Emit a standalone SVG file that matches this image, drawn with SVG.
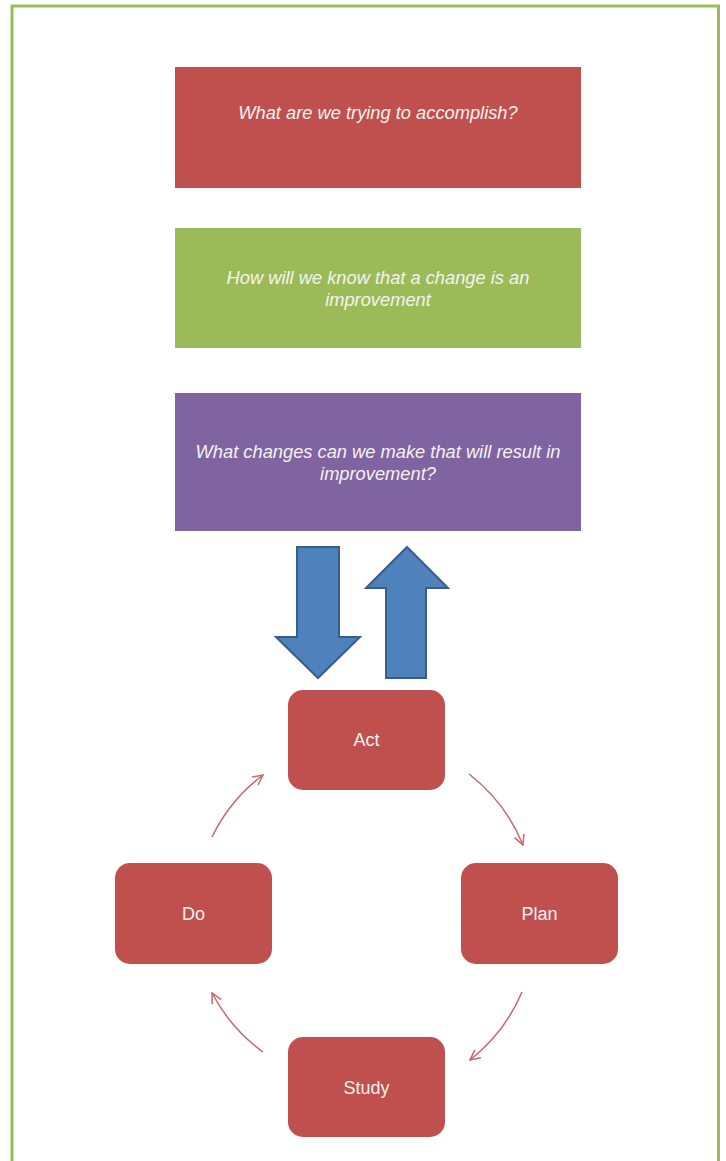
<svg xmlns="http://www.w3.org/2000/svg" width="726" height="1161" viewBox="0 0 726 1161">
<defs>
<style>
.q{font-family:"Liberation Sans",Arial,sans-serif;font-style:italic;font-size:18.3px;fill:#F5F2F0;text-anchor:middle}
.n{font-family:"Liberation Sans",Arial,sans-serif;font-size:18px;fill:#F5F2F0;text-anchor:middle}
.cyc{fill:#C0504D}
.blue{fill:#4F81BD;stroke:#385D8A;stroke-width:2;stroke-linejoin:miter}
.arc{fill:none;stroke:#C8676A;stroke-width:1.5;marker-end:url(#ah)}
</style>
<marker id="ah" viewBox="0 0 12 12" refX="11" refY="6" markerWidth="12" markerHeight="12" markerUnits="userSpaceOnUse" orient="auto">
<path d="M1,1 L11,6 L1,11" fill="none" stroke="#C8676A" stroke-width="1.5"/>
</marker>
</defs>
<rect width="726" height="1161" fill="#FFFFFF"/>
<rect x="12" y="6" width="706.5" height="1157" fill="none" stroke="#9BBB59" stroke-width="3"/>

<g id="q1">
<rect x="175" y="67" width="406" height="121" fill="#C0504D"/>
<text class="q" x="378" y="119">What are we trying to accomplish?</text>
</g>
<g id="q2">
<rect x="175" y="228" width="406" height="120" fill="#9BBB59"/>
<text class="q" x="378" y="284">How will we know that a change is an</text>
<text class="q" x="378" y="306">improvement</text>
</g>
<g id="q3">
<rect x="175" y="393" width="406" height="138" fill="#8064A2"/>
<text class="q" x="378" y="458">What changes can we make that will result in</text>
<text class="q" x="378" y="480">improvement?</text>
</g>

<g id="arrow-down">
<polygon class="blue" points="297,547 339,547 339,637 360,637 318,678 276,637 297,637"/>
</g>
<g id="arrow-up">
<polygon class="blue" points="407,547 448,588 426,588 426,678 386,678 386,588 366,588"/>
</g>

<g id="act">
<rect class="cyc" x="288" y="690" width="157" height="100" rx="15"/>
<text class="n" x="366.5" y="746">Act</text>
</g>
<g id="plan">
<rect class="cyc" x="461" y="863" width="157" height="101" rx="15"/>
<text class="n" x="539.5" y="919.5">Plan</text>
</g>
<g id="study">
<rect class="cyc" x="288" y="1037" width="157" height="100" rx="15"/>
<text class="n" x="366.5" y="1093.5">Study</text>
</g>
<g id="do">
<rect class="cyc" x="115" y="863" width="157" height="101" rx="15"/>
<text class="n" x="193.5" y="919.5">Do</text>
</g>

<g id="connectors">
<path class="arc" d="M469,774 A172,172 0 0 1 523,845"/>
<path class="arc" d="M522,992 A172,172 0 0 1 470,1060"/>
<path class="arc" d="M263,1052 A172,172 0 0 1 212,993"/>
<path class="arc" d="M212,837 A172,172 0 0 1 263,775"/>
</g>
</svg>
